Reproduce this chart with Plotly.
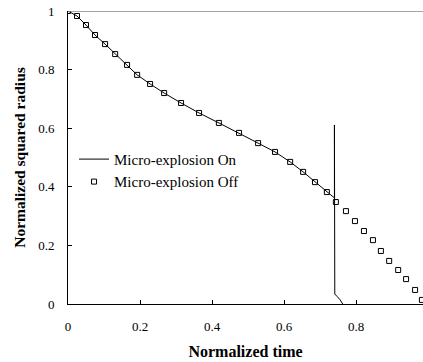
import plotly.graph_objects as go

# Micro-explosion Off (square markers)
off_t = [0, 0.025, 0.05, 0.075, 0.103, 0.131, 0.164, 0.192, 0.228, 0.267, 0.314,
         0.364, 0.419, 0.475, 0.528, 0.575, 0.617, 0.653, 0.686, 0.719, 0.744,
         0.772, 0.797, 0.822, 0.847, 0.869, 0.892, 0.917, 0.939, 0.964, 0.983]
off_r = [1.0, 0.983, 0.952, 0.918, 0.887, 0.853, 0.816, 0.782, 0.751, 0.720, 0.686,
         0.652, 0.618, 0.584, 0.549, 0.519, 0.485, 0.451, 0.416, 0.382, 0.348,
         0.317, 0.283, 0.249, 0.218, 0.181, 0.147, 0.116, 0.085, 0.048, 0.014]

# Micro-explosion On (solid line)
on_t = [0, 0.025, 0.05, 0.075, 0.103, 0.131, 0.164, 0.192, 0.228, 0.267, 0.314,
        0.364, 0.419, 0.475, 0.528, 0.575, 0.617, 0.653, 0.686, 0.719, 0.740,
        0.740, 0.740, 0.741, 0.748, 0.756, 0.763]
on_r = [1.0, 0.983, 0.952, 0.918, 0.887, 0.853, 0.816, 0.782, 0.751, 0.720, 0.686,
        0.652, 0.618, 0.584, 0.549, 0.519, 0.485, 0.451, 0.416, 0.382, 0.362,
        0.611, 0.040, 0.034, 0.025, 0.014, 0.0]

x_ticks = [0, 0.2, 0.4, 0.6, 0.8]
x_labels = ["0", "0.2", "0.4", "0.6", "0.8"]
y_ticks = [0, 0.2, 0.4, 0.6, 0.8, 1]
y_labels = ["0", "0.2", "0.4", "0.6", "0.8", "1"]

FONT = "'Liberation Serif', 'Times New Roman', Times, serif"

fig = go.Figure()
fig.add_trace(go.Scatter(x=on_t, y=on_r, mode="lines", name="Micro-explosion On",
                         line=dict(color="black", width=1)))
fig.add_trace(go.Scatter(x=off_t, y=off_r, mode="markers", name="Micro-explosion Off",
                         marker=dict(symbol="square-open", size=5, color="black",
                                     line=dict(width=1, color="black"))))

fig.add_shape(type="line", xref="paper", yref="y", x0=0, x1=1, y0=1, y1=1,
              line=dict(color="#888888", width=1.5))

fig.update_layout(
    width=423, height=362,
    margin=dict(l=68, r=0, t=11, b=58),
    paper_bgcolor="white", plot_bgcolor="white",
    font=dict(family=FONT, size=12, color="black"),
    showlegend=True,
    legend=dict(x=0.017, y=0.55, xanchor="left", yanchor="top",
                bgcolor="rgba(0,0,0,0)", font=dict(family=FONT, size=15),
                tracegroupgap=0),
    xaxis=dict(range=[0, 0.986], tickvals=x_ticks, ticktext=x_labels,
               ticks="inside", ticklen=4, tickcolor="black", showgrid=False,
               zeroline=False, showline=True, linecolor="black", linewidth=1,
               ticklabelstandoff=10, tickfont=dict(family=FONT, size=13),
               title=dict(text="<b>Normalized time</b>", standoff=13,
                          font=dict(family=FONT, size=16))),
    yaxis=dict(range=[0, 1], tickvals=y_ticks, ticktext=y_labels,
               ticks="inside", ticklen=4, tickcolor="black", showgrid=False,
               zeroline=False, showline=True, linecolor="black", linewidth=1,
               ticklabelstandoff=10, tickfont=dict(family=FONT, size=13),
               title=dict(text="<b>Normalized squared radius</b>", standoff=8,
                          font=dict(family=FONT, size=15.5))),
)

fig.write_html("out.html")
